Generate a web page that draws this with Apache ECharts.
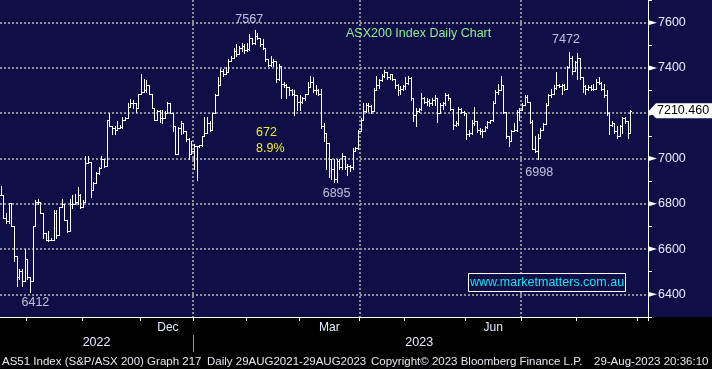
<!DOCTYPE html>
<html><head><meta charset="utf-8">
<script src="https://cdn.jsdelivr.net/npm/echarts@6/dist/echarts.min.js"></script>
<style>html,body{margin:0;padding:0;background:#000}#c{width:712px;height:369px}</style>
</head><body><div id="c"></div>
<script>
// ---------- DATA ----------
const startDate = '2022-09-16';
const endDate = '2023-09-06';
const holidays = ['2022-09-22','2022-12-26','2022-12-27','2023-01-02','2023-01-26','2023-04-07','2023-04-10','2023-04-25','2023-06-12'];

const highs = [6878,6840,6758,6804,6804,6700,6570,6512,6512,6599,
 6555,6475,6700,6816,6823,6809,6758,6671,6678,6649,
 6772,6772,6787,6823,6801,6729,6823,6838,6845,6874,
 6845,6816,7011,7011,6985,6895,6939,6961,7011,6997,
 7171,7200,7142,7142,7164,7149,7185,7185,7243,7261,
 7258,7243,7287,7374,7352,7345,7323,7287,7222,7214,
 7214,7214,7211,7251,7243,7203,7142,7139,7164,7156,
 7120,7091,7077,7062,7055,7058,7098,7185,7185,7164,
 7200,7284,7359,7395,7395,7403,7439,7453,7490,7504,
 7497,7511,7504,7511,7548,7533,7567,7555,7533,7526,
 7490,7439,7453,7439,7432,7417,7352,7337,7330,7316,
 7308,7301,7279,7279,7272,7287,7337,7366,7359,7323,
 7308,7308,7156,7113,7070,6997,6997,6997,6997,7026,
 7011,6975,6971,7048,7052,7127,7178,7243,7243,7243,
 7236,7313,7366,7352,7374,7391,7377,7374,7371,7352,
 7327,7319,7323,7362,7365,7359,7265,7222,7222,7290,
 7272,7265,7261,7265,7279,7269,7243,7251,7290,7287,
 7269,7217,7164,7229,7222,7211,7203,7127,7168,7229,
 7164,7135,7130,7142,7164,7171,7255,7301,7330,7366,
 7323,7207,7098,7127,7156,7214,7222,7243,7279,7279,
 7251,7171,7098,7106,7135,7156,7243,7287,7308,7323,
 7381,7330,7330,7330,7410,7472,7453,7432,7468,7446,
 7359,7323,7323,7323,7330,7352,7359,7337,7330,7301,
 7207,7164,7156,7142,7149,7185,7185,7164,7215];

const lows = [6838,6736,6715,6715,6700,6548,6439,6468,6439,6461,
 6468,6412,6461,6700,6801,6758,6649,6642,6635,6638,
 6642,6649,6664,6787,6729,6675,6678,6780,6801,6801,
 6780,6787,6809,6982,6830,6859,6893,6932,6958,6961,
 6965,7142,7106,7106,7127,7135,7135,7171,7178,7229,
 7222,7207,7222,7284,7294,7294,7287,7222,7171,7171,
 7159,7156,7178,7200,7200,7120,7019,7019,7106,7113,
 7077,6997,7019,6953,6907,7052,7055,7098,7113,7120,
 7127,7200,7279,7323,7366,7374,7381,7432,7446,7453,
 7461,7475,7468,7475,7478,7504,7504,7526,7497,7482,
 7432,7410,7410,7410,7337,7345,7265,7316,7265,7279,
 7279,7193,7214,7214,7243,7258,7287,7316,7294,7287,
 7279,7135,7077,6953,6917,6910,6895,6898,6953,6953,
 6953,6925,6946,6953,7033,7043,7120,7171,7207,7211,
 7203,7211,7304,7313,7342,7359,7352,7352,7345,7313,
 7279,7287,7301,7308,7327,7258,7164,7142,7207,7214,
 7243,7236,7232,7236,7236,7159,7200,7217,7236,7258,
 7214,7130,7142,7149,7200,7193,7084,7098,7106,7149,
 7116,7106,7096,7120,7135,7156,7164,7243,7287,7301,
 7200,7091,7055,7077,7120,7120,7171,7214,7236,7251,
 7156,7040,7030,6998,7091,7127,7153,7236,7272,7284,
 7308,7316,7287,7301,7308,7403,7374,7388,7352,7352,
 7294,7287,7301,7301,7301,7308,7327,7301,7272,7193,
 7106,7142,7113,7091,7098,7113,7156,7091,7113];

const closes = [6840,6736,6722,6804,6700,6570,6475,6504,6461,6555,
 6475,6461,6700,6809,6809,6758,6671,6642,6642,6642,
 6758,6664,6787,6801,6729,6678,6801,6801,6809,6838,
 6787,6809,6982,6985,6859,6893,6936,6958,6997,6965,
 7171,7142,7135,7127,7135,7138,7171,7178,7229,7243,
 7243,7222,7284,7294,7301,7323,7287,7222,7171,7211,
 7178,7178,7203,7243,7203,7142,7019,7135,7156,7120,
 7084,7019,7033,7055,7055,7058,7098,7113,7156,7127,
 7200,7279,7323,7388,7374,7381,7432,7446,7475,7463,
 7490,7497,7478,7482,7533,7511,7540,7533,7504,7490,
 7439,7414,7424,7432,7352,7410,7330,7323,7316,7301,
 7287,7279,7251,7251,7265,7287,7316,7337,7301,7301,
 7287,7142,7113,7070,6997,6953,6910,6990,6961,7011,
 6961,6965,6961,7033,7048,7120,7171,7211,7236,7232,
 7211,7304,7323,7345,7366,7381,7362,7371,7352,7323,
 7301,7308,7319,7333,7356,7265,7193,7211,7217,7265,
 7251,7255,7243,7258,7265,7200,7236,7243,7279,7265,
 7217,7149,7156,7217,7207,7200,7106,7113,7156,7164,
 7127,7120,7120,7139,7159,7168,7243,7294,7301,7323,
 7207,7098,7077,7120,7124,7207,7214,7236,7272,7251,
 7159,7043,7033,7091,7127,7153,7236,7279,7287,7313,
 7323,7319,7323,7308,7403,7446,7388,7424,7446,7359,
 7319,7308,7316,7308,7308,7337,7333,7308,7279,7200,
 7149,7156,7120,7098,7142,7178,7164,7113,7210.46];

const yTicks = [6400, 6600, 6800, 7000, 7200, 7400, 7600];
const monthLabels = {'2022-12': 'Dec', '2023-03': 'Mar', '2023-06': 'Jun'};
const yearLabels = ['2022', '2023'];
const lastPrice = 7210.46;
// annotations: bar index, value, label offset
const annotations = [
  {idx: 11, val: 6412, off: [5, 11]},
  {idx: 96, val: 7567, off: [-6, -11]},
  {idx: 126, val: 6895, off: [2, 11]},
  {idx: 203, val: 6998, off: [1, 14]},
  {idx: 215, val: 7472, off: [-4, -12]}
];
const moveText = ['672', '8.9%'];
const titleText = 'ASX200 Index Daily Chart';
const siteText = 'www.marketmatters.com.au';
const footer = [
  {t: 'AS51 Index (S&P/ASX 200) Graph 217', x: 2},
  {t: 'Daily 29AUG2021-29AUG2023', x: 207},
  {t: 'Copyright\u00A9 2023 Bloomberg Finance L.P.', x: 371},
  {t: '29-Aug-2023 20:36:10', x: 594}
];

// ---------- CALENDAR ----------
const dates = (function () {
  const out = []; let d = new Date(startDate + 'T00:00:00Z'); const end = new Date(endDate + 'T00:00:00Z');
  while (d <= end) {
    const wd = d.getUTCDay(); const s = d.toISOString().slice(0, 10);
    if (wd !== 0 && wd !== 6 && holidays.indexOf(s) < 0) out.push(s);
    d = new Date(d.getTime() + 86400000);
  }
  return out;
})();
const N = dates.length;
const isMonthStart = dates.map((d, i) => i > 0 && d.slice(0, 7) !== dates[i - 1].slice(0, 7));
const isQuarterStart = dates.map((d, i) => isMonthStart[i] && ['01','04','07','10'].indexOf(d.slice(5, 7)) >= 0);
const monthLabelAt = {};
Object.keys(monthLabels).forEach(k => {
  const s = dates.findIndex(d => d.slice(0, 7) === k);
  let e = dates.findIndex((d, i) => i > s && d.slice(0, 7) !== k); if (e < 0) e = N;
  monthLabelAt[Math.floor((s + e) / 2)] = monthLabels[k];
});
const yearLabelAt = {}; let yearSepIdx = -1;
yearLabels.forEach(y => {
  const s = dates.findIndex(d => d.slice(0, 4) === y);
  let e = dates.findIndex((d, i) => i > s && d.slice(0, 4) !== y); if (e < 0) e = N;
  yearLabelAt[Math.floor((s + e - 1) / 2)] = y;
  if (s > 0) yearSepIdx = s;
});

// ---------- FONTS ----------
function hasFont(name) {
  const c = document.createElement('canvas').getContext('2d');
  const s = 'AS51 Index (S&P/ASX 200) Graph 217 mmmWWWiii';
  c.font = '30px monospace'; const w1 = c.measureText(s).width;
  c.font = '30px "' + name + '", monospace'; const w2 = c.measureText(s).width;
  return Math.abs(w1 - w2) > 0.5;
}
const NARROW = hasFont('Liberation Sans Narrow');
const FF = NARROW ? '"Liberation Sans Narrow", "Liberation Sans", sans-serif' : '"Liberation Sans", sans-serif';
const K = NARROW ? 1 : 0.82;
const sz = n => Math.round(n * K * 2) / 2;

const NAVY = '#0f0e47';
const GRID_COL = '#8e8e96';
const LABEL_COL = '#e4ecff';
const GRID = {left: 0, right: 64, top: -4, bottom: 52};
const W = 712, H = 369;
const axisRight = W - GRID.right, axisBottom = H - GRID.bottom;

function renderOHLC(params, api) {
  const i = api.value(0);
  const pO = api.coord([i, api.value(1)]);
  const pC = api.coord([i, api.value(2)]);
  const pL = api.coord([i, api.value(3)]);
  const pH = api.coord([i, api.value(4)]);
  const bw = api.size([1, 0])[0];
  const cx = pO[0];
  const xl = Math.round(cx - bw / 2), xr = Math.round(cx + bw / 2);
  const xm = Math.floor(cx) + 0.5;
  const yo = Math.round(pO[1]) + 0.5, yc = Math.round(pC[1]) + 0.5;
  const yTop = Math.round(Math.min(pH[1], pO[1], pC[1]));
  const yBot = Math.round(Math.max(pL[1], pO[1], pC[1])) + 1;
  const style = {stroke: '#ffffff', lineWidth: 1, fill: null};
  return {type: 'group', children: [
    {type: 'line', shape: {x1: xm, y1: yTop, x2: xm, y2: yBot}, style: style},
    {type: 'line', shape: {x1: xl, y1: yo, x2: xm + 0.5, y2: yo}, style: style},
    {type: 'line', shape: {x1: xm - 0.5, y1: yc, x2: xr, y2: yc}, style: style}
  ]};
}

const chart = echarts.init(document.getElementById('c'), null, {renderer: 'canvas', width: W, height: H});
const split = axisBottom / H;
const option = {
  animation: false,
  backgroundColor: new echarts.graphic.LinearGradient(0, 0, 0, 1, [
    {offset: 0, color: NAVY}, {offset: split, color: NAVY},
    {offset: split, color: '#000'}, {offset: 1, color: '#000'}]),
  grid: {left: GRID.left, right: GRID.right, top: GRID.top, bottom: GRID.bottom, containLabel: false},
  xAxis: [{
    type: 'category', data: dates, boundaryGap: true, position: 'bottom',
    axisLine: {show: true, onZero: false, lineStyle: {color: '#fff', width: 1}},
    axisTick: {show: true, interval: i => isMonthStart[i], length: 4, lineStyle: {color: '#fff'}},
    axisLabel: {show: true, interval: i => monthLabelAt[i] !== undefined,
      formatter: (v, i) => monthLabelAt[i] || '', color: LABEL_COL, fontSize: sz(14.5), fontFamily: FF,
      margin: 5},
    splitLine: {show: true, showMinLine: false, showMaxLine: false, interval: i => isQuarterStart[i],
      lineStyle: {color: GRID_COL, width: 2, type: [2, 2]}}
  }, {
    type: 'category', data: dates, boundaryGap: true, position: 'bottom', offset: 18,
    axisLine: {show: false},
    axisTick: {show: false},
    axisLabel: {show: true, interval: i => yearLabelAt[i] !== undefined,
      formatter: (v, i) => yearLabelAt[i] || '', color: LABEL_COL, fontSize: sz(15.5), fontFamily: FF,
      margin: 1},
    splitLine: {show: false}
  }],
  yAxis: {
    type: 'value', position: 'right', min: 6300, max: 7700, interval: 100, scale: true,
    axisLine: {show: true, lineStyle: {color: '#fff', width: 1}},
    axisTick: {show: true, length: 4, lineStyle: {color: '#fff'}},
    axisLabel: {show: true, margin: 10, color: LABEL_COL, fontSize: sz(15.5), fontFamily: FF,
      formatter: v => (yTicks.indexOf(v) >= 0 ? String(v) : '')},
    splitLine: {show: true, lineStyle: {color: ['rgba(0,0,0,0)', GRID_COL], width: 2, type: [2, 2]}}
  },
  series: [{
    type: 'custom', name: 'AS51', xAxisIndex: 0, yAxisIndex: 0, clip: true, silent: true,
    renderItem: renderOHLC,
    encode: {x: 0, y: [1, 2, 3, 4]},
    data: closes.map((c, i) => [i, i > 0 ? closes[i - 1] : c, c, lows[i], highs[i]])
  }, {
    type: 'scatter', xAxisIndex: 0, yAxisIndex: 0, silent: true, symbol: 'circle', symbolSize: 1,
    itemStyle: {color: 'rgba(0,0,0,0)'},
    label: {show: true, position: 'inside', formatter: p => String(p.value[1]),
      color: LABEL_COL, fontSize: sz(15.5), fontFamily: FF},
    data: annotations.map(a => ({value: [a.idx, a.val], label: {offset: a.off}}))
  }]
};
chart.setOption(option);

// ---------- decorations derived from the axes ----------
const G = [];
yTicks.forEach(v => {
  const y = chart.convertToPixel({yAxisIndex: 0}, v);
  G.push({type: 'polygon', z: 50, silent: true,
    shape: {points: [[axisRight, y - 2.7], [axisRight + 9, y], [axisRight, y + 2.7]]}, style: {fill: '#fff'}});
});
// year separator at the boundary before the first trading day of the new year
const bandW = chart.convertToPixel({xAxisIndex: 0}, dates[1]) - chart.convertToPixel({xAxisIndex: 0}, dates[0]);
const xSep = Math.round(chart.convertToPixel({xAxisIndex: 0}, dates[yearSepIdx]) - bandW / 2) + 0.5;
G.push({type: 'line', z: 40, silent: true, shape: {x1: xSep, y1: axisBottom + 18, x2: xSep, y2: axisBottom + 35},
  style: {stroke: '#9a9a9a', lineWidth: 1}});
const yl = chart.convertToPixel({yAxisIndex: 0}, lastPrice);
G.push({type: 'polygon', z: 60, silent: true,
  shape: {points: [[axisRight + 1, yl], [axisRight + 8, yl - 7.5], [W, yl - 7.5], [W, yl + 7.5], [axisRight + 8, yl + 7.5]]},
  style: {fill: '#fff'}});
G.push({type: 'text', z: 61, silent: true, x: axisRight + 9, y: yl,
  style: {text: lastPrice.toFixed(3), fill: '#000', fontSize: sz(15.5), fontFamily: FF, align: 'left', verticalAlign: 'middle'}});
G.push({type: 'text', z: 40, silent: true, x: 346, y: 33.5,
  style: {text: titleText, fill: '#8fee8f', fontSize: sz(15.5), fontFamily: FF, align: 'left', verticalAlign: 'middle'}});
G.push({type: 'text', z: 40, silent: true, x: 256, y: 133,
  style: {text: moveText[0], fill: '#f0f020', fontSize: sz(15.5), fontFamily: FF, align: 'left', verticalAlign: 'middle'}});
G.push({type: 'text', z: 40, silent: true, x: 256, y: 148.5,
  style: {text: moveText[1], fill: '#f0f020', fontSize: sz(15.5), fontFamily: FF, align: 'left', verticalAlign: 'middle'}});
G.push({type: 'rect', z: 40, silent: true, shape: {x: 468.5, y: 273.5, width: 157, height: 18},
  style: {fill: NAVY, stroke: '#fff', lineWidth: 1}});
G.push({type: 'text', z: 41, silent: true, x: 547, y: 283,
  style: {text: siteText, fill: '#22e0ee', fontSize: sz(15), fontFamily: FF, align: 'center', verticalAlign: 'middle'}});
footer.forEach(f => G.push({type: 'text', z: 40, silent: true, x: f.x, y: 361.5,
  style: {text: f.t, fill: '#e6e6ee', fontSize: sz(14), fontFamily: FF, align: 'left', verticalAlign: 'middle'}}));
chart.setOption({graphic: G});
</script>
</body></html>
